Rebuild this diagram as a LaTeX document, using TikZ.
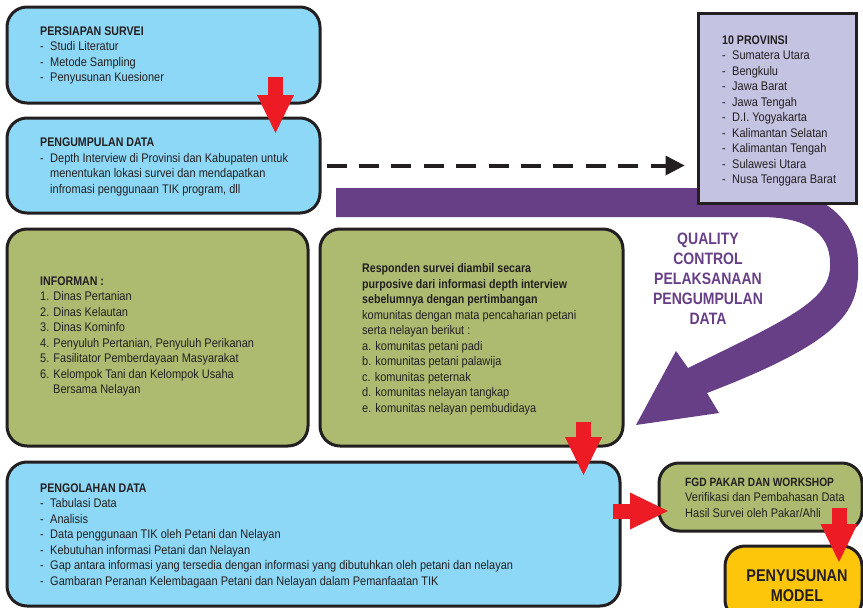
\documentclass[tikz,border=0pt]{standalone}
\usepackage{fontspec}
\setmainfont{Liberation Sans}[FakeStretch=0.88,BoldFeatures={FakeStretch=0.85}]
\usetikzlibrary{arrows.meta}
\pgfdeclarelayer{bg}
\pgfsetlayers{bg,main}
\definecolor{skyblue}{RGB}{141,216,246}
\definecolor{leafgreen}{RGB}{173,187,113}
\definecolor{provlilac}{RGB}{197,195,226}
\definecolor{qcpurple}{RGB}{103,63,135}
\definecolor{arrred}{RGB}{237,28,36}
\definecolor{modelyellow}{RGB}{253,198,11}
\definecolor{ink}{RGB}{35,31,32}
\newcommand{\itm}{\makebox[10pt][l]{-}}
\tikzset{
  box/.style={draw=ink, line width=3pt, rounded corners=20pt, inner sep=0pt},
  txt/.style={anchor=north west, inner sep=0pt, align=left, text=ink,
    font=\fontsize{12.5}{15.5}\selectfont},
  redarr/.style={draw=arrred, line width=15pt,
    -{Triangle[length=38pt,width=37pt,line width=0pt]}},
  dashline/.style={draw=ink, line width=4pt, dash pattern=on 20pt off 12.4pt,
    -{Triangle[length=19pt,width=20pt,line width=0pt]}},
}

\begin{document}
\begin{tikzpicture}[x=1pt,y=-1pt]
        \useasboundingbox (0,0) rectangle (863,608);
        \clip (0,0) rectangle (863,608);
        \node (b0) [box, fill=skyblue, minimum width=313, minimum height=96] at (163.5,55) {};
        \node (b1) [box, fill=skyblue, minimum width=313, minimum height=95] at (163.5,165.5) {};
        \node (b2) [box, rounded corners=0pt, fill=provlilac, minimum width=158, minimum height=190] at (777,108) {};
        \node (b3) [box, fill=leafgreen, minimum width=301, minimum height=217] at (157.5,337.5) {};
        \node (b4) [box, fill=leafgreen, minimum width=303, minimum height=217] at (471.5,337.5) {};
        \node (b5) [box, fill=skyblue, minimum width=613, minimum height=144] at (313.5,534) {};
        \node (b6) [box, fill=leafgreen, minimum width=203, minimum height=68] at (760.5,497) {};
        \node (b7) [box, fill=modelyellow, minimum width=137, minimum height=74] at (793.5,583) {};

        \node (t0) [txt] at (40,26.5) {\textbf{PERSIAPAN SURVEI}\\
\itm Studi Literatur\\ \itm Metode Sampling\\ \itm Penyusunan Kuesioner};
        \node (t1) [txt] at (40,138) {\textbf{PENGUMPULAN DATA}\\
\itm Depth Interview di Provinsi dan Kabupaten untuk\\
\hspace*{10pt}menentukan lokasi survei dan mendapatkan\\
\hspace*{10pt}infromasi penggunaan TIK program, dll};
        \node (t2) [txt] at (722,35.5) {\textbf{10 PROVINSI}\\
\itm Sumatera Utara\\ \itm Bengkulu\\ \itm Jawa Barat\\ \itm Jawa Tengah\\
\itm D.I. Yogyakarta\\ \itm Kalimantan Selatan\\ \itm Kalimantan Tengah\\
\itm Sulawesi Utara\\ \itm Nusa Tenggara Barat};
        \node (t3) [txt] at (40,276.5) {\textbf{INFORMAN :}\\
1. Dinas Pertanian\\ 2. Dinas Kelautan\\ 3. Dinas Kominfo\\
4. Penyuluh Pertanian, Penyuluh Perikanan\\
5. Fasilitator Pemberdayaan Masyarakat\\
6. Kelompok Tani dan Kelompok Usaha\\
\hspace*{13pt}Bersama Nelayan};
        \node (t4) [txt] at (362,263.5) {\textbf{Responden survei diambil secara}\\
\textbf{purposive dari informasi depth interview}\\
\textbf{sebelumnya dengan pertimbangan}\\
komunitas dengan mata pencaharian petani\\
serta nelayan berikut :\\
a. komunitas petani padi\\ b. komunitas petani palawija\\
c. komunitas peternak\\ d. komunitas nelayan tangkap\\
e. komunitas nelayan pembudidaya};
        \node (t5) [txt] at (40,483.5) {\textbf{PENGOLAHAN DATA}\\
\itm Tabulasi Data\\ \itm Analisis\\
\itm Data penggunaan TIK oleh Petani dan Nelayan\\
\itm Kebutuhan informasi Petani dan Nelayan\\
\itm Gap antara informasi yang tersedia dengan informasi yang dibutuhkan oleh petani dan nelayan\\
\itm Gambaran Peranan Kelembagaan Petani dan Nelayan dalam Pemanfaatan TIK};
        \node (t6) [txt] at (685,477.5) {{\fontsize{12}{15.5}\selectfont\bfseries FGD PAKAR DAN WORKSHOP}\\
Verifikasi dan Pembahasan Data\\ Hasil Survei oleh Pakar/Ahli};
        \node (t7) [align=center, text=ink, font=\fontsize{17}{20}\selectfont\bfseries] at (797,586) {PENYUSUNAN\\ MODEL};
        \node (t8) [align=center, text=qcpurple, font=\fontsize{16.5}{20}\selectfont\bfseries] at (708,278.5)
{QUALITY\\ CONTROL\\ PELAKSANAAN\\ PENGUMPULAN\\ DATA};

        \coordinate (a0) at (275.5,77);
        \coordinate (a1) at (275.5,133);
        \coordinate (a2) at (583.5,422);
        \coordinate (a3) at (583.5,475);
        \coordinate (a4) at (613,511);
        \coordinate (a5) at (668,511);
        \coordinate (a6) at (839,508);
        \coordinate (a7) at (839,562);
        \draw[redarr] (a0) -- (a1);
        \draw[redarr] (a2) -- (a3);
        \draw[redarr] (a4) -- (a5);
        \draw[redarr] (a6) -- (a7);
        \draw[dashline] ([xshift=5pt]b1.east) -- ([xshift=-12pt]b1.east -| b2.west);

        \begin{pgfonlayer}{bg}
                \fill[qcpurple] (336,188) -- (760,188) .. controls (825,188) and (858,222) .. (858,263)
                  .. controls (860,310) and (845,340) .. (707,393) -- (719,413) -- (636,425) -- (676,351)
                  -- (688,368) .. controls (790,318) and (832,300) .. (830,263)
                  .. controls (830,232) and (805,217) .. (760,217) -- (336,217) -- cycle;
        \end{pgfonlayer}
\end{tikzpicture}
\end{document}
